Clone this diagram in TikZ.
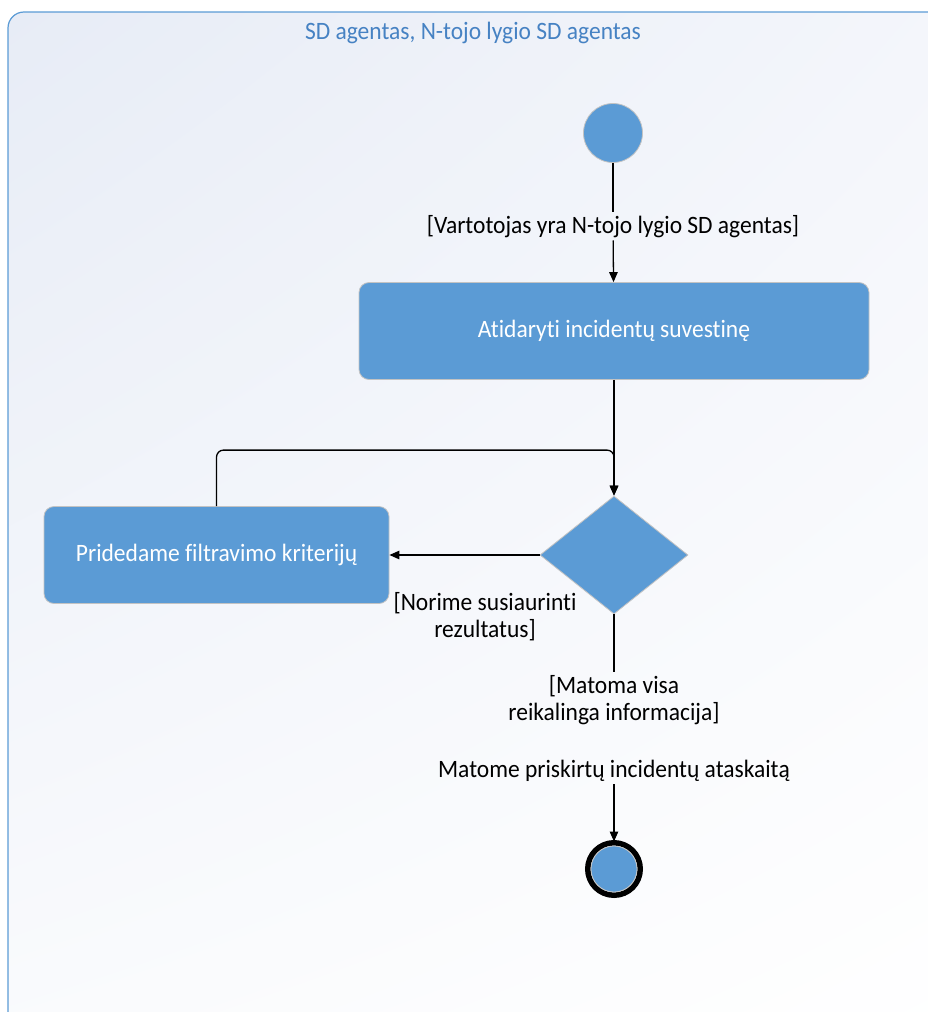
\documentclass[tikz,border=0pt]{standalone}
\usepackage{fontspec}
\setmainfont{Carlito}[FakeStretch=0.94, Ligatures=NoCommon]
\usetikzlibrary{shapes.geometric,arrows.meta,shadings}

\definecolor{actblue}{RGB}{91,155,213}
\definecolor{framebl}{RGB}{91,155,213}
\definecolor{titlebl}{RGB}{70,130,195}
\definecolor{bgtl}{RGB}{231,236,246}
\definecolor{bgtr}{RGB}{244,246,251}
\definecolor{bgbl}{RGB}{250,251,253}
\definecolor{edgegray}{RGB}{195,195,195}

\tikzset{
  txt/.style={font=\fontsize{25}{27}\selectfont},
  action/.style={txt, draw=edgegray, line width=0.8pt, fill=actblue, rounded corners=10pt,
    text=white, inner sep=0pt},
  decision/.style={diamond, draw=edgegray, line width=0.8pt, fill=actblue, inner sep=0pt,
    minimum width=148pt, minimum height=118pt},
  initial/.style={circle, draw=edgegray, line width=0.8pt, fill=actblue, minimum size=59pt, inner sep=0pt},
  guard/.style={txt, align=center, inner sep=3pt},
  flow/.style={line width=1.3pt, draw=black},
  flowto/.style={flow, -{Triangle[length=10pt,width=8.5pt]}},
}

\begin{document}
\begin{tikzpicture}[x=1pt,y=-1pt]
\useasboundingbox (0,0) rectangle (928,1012);

% activity frame with soft background
\shade[upper left=bgtl, upper right=bgtr, lower left=bgbl, lower right=white, rounded corners=16pt]
  (8,12) rectangle (960,1040);
\draw[framebl, line width=1.2pt, rounded corners=16pt] (8,12) rectangle (960,1040);
\node[txt, text=titlebl, anchor=base] (title) at (473,39) {SD agentas, N-tojo lygio SD agentas};

% nodes
\node[initial] (start) at (613,133) {};
\node[guard, anchor=base] (g1) at (613,233) {[Vartotojas yra N-tojo lygio SD agentas]};
\node[action, minimum width=510pt, minimum height=97pt] (open) at (614,331) {Atidaryti incidentų suvestinę};
\node[decision] (dec) at (614,555) {};
\node[action, minimum width=345pt, minimum height=97pt] (filter) at (216.5,555) {Pridedame filtravimo kriterijų};
\node[guard] (g2) at (485,617) {[Norime susiaurinti\\rezultatus]};
\node[guard] (g3) at (614,700) {[Matoma visa\\reikalinga informacija]};
\node[guard, anchor=base] (act) at (614,777) {Matome priskirtų incidentų ataskaitą};
\node[circle, draw=black, line width=5.5pt, minimum size=52.5pt, inner sep=0pt] (final) at (614,869) {};
\node[circle, draw=edgegray, line width=0.8pt, fill=actblue, minimum size=46pt, inner sep=0pt] (finalin) at (final.center) {};

% flows
\draw[flow] (start) -- (g1);
\draw[flowto] (g1) -- (open);
\draw[flowto] (open) -- (dec);
\draw[flowto] (dec) -- (filter);
\draw[flowto, rounded corners=7pt] (filter.north) -- ++(0,-56) -| (dec.north);
\draw[flow] (dec.south) -- (g3.north);
\draw[flowto] (act.south) -- ([yshift=-1.5pt]final.north);
\end{tikzpicture}
\end{document}
